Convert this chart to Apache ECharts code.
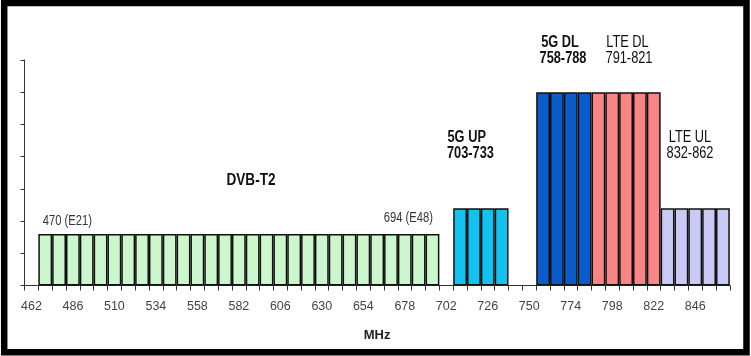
<!DOCTYPE html>
<html>
<head>
<meta charset="utf-8">
<script src="https://cdn.jsdelivr.net/npm/echarts@6/dist/echarts.min.js"></script>
<style>html,body{margin:0;padding:0;background:#fff}#c{width:751px;height:356px}</style>
</head>
<body>
<div id="c"></div>
<script>
// ---- data ----
var categories = ['462','470','478','486','494','502','510','518','526','534','542','550','558','566','574','582','590','598','606','614','622','630','638','646','654','662','670','678','686','694','702','710','718','726','734','742','750','758','766','774','782','790','798','806','814','822','830','838','846','854','862'];
var dvbChannels = ['470','478','486','494','502','510','518','526','534','542','550','558','566','574','582','590','598','606','614','622','630','638','646','654','662','670','678','686','694'];
var dvbValues = [1.6,1.6,1.6,1.6,1.6,1.6,1.6,1.6,1.6,1.6,1.6,1.6,1.6,1.6,1.6,1.6,1.6,1.6,1.6,1.6,1.6,1.6,1.6,1.6,1.6,1.6,1.6,1.6,1.6];
var g5UpChannels = ['710','718','726','734'];
var g5UpValues = [2.4,2.4,2.4,2.4];
var g5DlChannels = ['758','766','774','782'];
var g5DlValues = [6,6,6,6];
var lteDlChannels = ['790','798','806','814','822'];
var lteDlValues = [6,6,6,6,6];
var lteUlChannels = ['830','838','846','854','862'];
var lteUlValues = [2.4,2.4,2.4,2.4,2.4];

// ---- styles ----
var FONT = "'Liberation Sans',Arial,sans-serif";
function pairs(ch, vals){ return ch.map(function(c,i){ return [c, vals[i]]; }); }
function band(name, ch, vals, color){
  return {
    name: name, type: 'bar', data: pairs(ch, vals),
    barGap: '-100%', barCategoryGap: '0%',
    itemStyle: { color: color, borderColor: '#111', borderWidth: 1.5 },
    silent: true, animation: false
  };
}
function txt(t, x, y, align, size, bold, color){
  return { type:'text', x:x, y:y, scaleX:0.8, silent:true,
    style:{ text:t, textAlign:align, textVerticalAlign:'middle', fontFamily:FONT,
      fontSize:size, fontWeight: bold ? 'bold':'normal', fill: color || '#111' } };
}

var chart = echarts.init(document.getElementById('c'), null, {renderer:'canvas'});
chart.setOption({
  backgroundColor: '#fff',
  animation: false,
  grid: { left: 24.5, right: 21.2, top: 60, bottom: 70.5, containLabel: false },
  xAxis: {
    type: 'category', data: categories, boundaryGap: true,
    name: 'MHz', nameLocation: 'middle', nameGap: 43,
    nameTextStyle: { fontFamily: FONT, fontWeight: 'bold', fontSize: 13, color: '#222' },
    axisLine: { lineStyle: { color: '#333', width: 1 } },
    axisTick: { show: true, interval: 0, length: 5, lineStyle: { color: '#333' } },
    axisLabel: { interval: 2, margin: 15, fontFamily: FONT, fontSize: 12.5, color: '#444' },
    splitLine: { show: false }
  },
  yAxis: {
    type: 'value', min: 0, max: 7, interval: 1,
    axisLine: { show: true, lineStyle: { color: '#333', width: 1 } },
    axisTick: { show: true, length: 4, lineStyle: { color: '#333' } },
    axisLabel: { show: false },
    splitLine: { show: false }
  },
  series: [
    band('DVB-T2', dvbChannels, dvbValues, '#ccf6cc'),
    band('5G UP', g5UpChannels, g5UpValues, '#12c3f2'),
    band('5G DL', g5DlChannels, g5DlValues, '#0b5ccb'),
    band('LTE DL', lteDlChannels, lteDlValues, '#f98585'),
    band('LTE UL', lteUlChannels, lteUlValues, '#cacaf7')
  ],
  graphic: [
    { type:'rect', silent:true, shape:{ x:4.2, y:3, width:742.3, height:349.2 },
      style:{ fill:'none', stroke:'#000', lineWidth:6.5 } },
    txt('DVB-T2', 251, 180, 'center', 17, true),
    txt('470 (E21)', 42.7, 221.5, 'left', 14, false, '#333'),
    txt('694 (E48)', 433, 218.5, 'right', 14, false, '#333'),
    txt('5G UP', 447.5, 137.5, 'left', 16, true),
    txt('703-733', 447, 154, 'left', 16, true),
    txt('5G DL', 560, 42.5, 'center', 16, true),
    txt('758-788', 563, 59, 'center', 16, true),
    txt('LTE DL', 627.5, 42.5, 'center', 16, false),
    txt('791-821', 629, 59, 'center', 16, false),
    txt('LTE UL', 690, 137.5, 'center', 16, false),
    txt('832-862', 690, 154, 'center', 16, false)
  ]
});
</script>
</body>
</html>
